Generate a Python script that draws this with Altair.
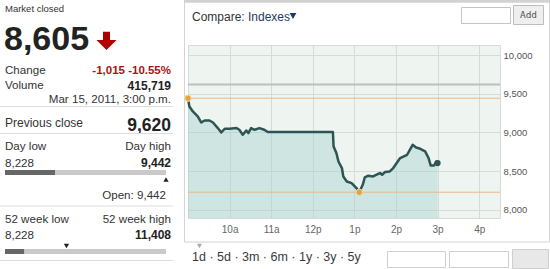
import altair as alt
import pandas as pd

# ---------------- data ----------------
times = ["9:00", "9:02", "9:07", "9:14", "9:19", "9:24", "9:31", "9:36", "9:43", "9:48",
         "9:53", "10:00", "10:10", "10:14", "10:19", "10:24", "10:27", "10:31", "10:36", "10:43",
         "10:50", "10:55", "11:00", "12:29", "12:30", "12:34", "12:37", "12:42", "12:44", "12:49",
         "12:56", "13:03", "13:07", "13:12", "13:15", "13:20", "13:27", "13:32", "13:37", "13:40",
         "13:44", "13:51", "13:56", "14:01", "14:06", "14:16", "14:20", "14:24", "14:29", "14:35",
         "14:42", "14:47", "14:50", "14:55", "14:58", "15:00"]
values = [9442, 9336, 9271, 9207, 9129, 9155, 9155, 9129, 9057, 9000,
          9048, 9048, 9057, 9035, 8970, 9026, 8992, 9057, 9035, 9057,
          9035, 9005, 9005, 9005, 8819, 8734, 8625, 8540, 8432, 8367,
          8346, 8282, 8228, 8324, 8419, 8441, 8432, 8454, 8475, 8454,
          8488, 8496, 8540, 8605, 8669, 8712, 8776, 8841, 8806, 8789,
          8755, 8669, 8574, 8574, 8625, 8605]

last_price = 8605
prev_close = 9620
open_price = 9442
day_low = 8228
day_high = 9442
wk52_low = 8228
wk52_high = 11408
volume = 415719
stamp = "Mar 15, 2011, 3:00 p.m."
hour_ticks = [10, 11, 12, 13, 14, 15, 16]
price_ticks = [8000, 8500, 9000, 9500, 10000]
periods = ["1d", "5d", "3m", "6m", "1y", "3y", "5y"]
y_min, y_max = 7895, 10130


def to_hours(t):
    h, m = t.split(":")
    return int(h) + int(m) / 60.0


df = pd.DataFrame({"h": [to_hours(t) for t in times], "v": values})
df["base"] = y_min

# ---------------- layout ----------------
PL, PT, W, H = 188, 45, 312, 173
FONT = "Liberation Sans"
XS = alt.Scale(domain=[9, 16.5], nice=False)
YS = alt.Scale(domain=[y_min, y_max], nice=False, zero=False)
one = pd.DataFrame({"k": [0]})


def txt(s, px, py, size=12, color="#333333", weight="normal", align="left", font=FONT):
    return alt.Chart(one).mark_text(
        text=s, align=align, baseline="alphabetic", fontSize=size,
        fontWeight=weight, color=color, font=font
    ).encode(x=alt.value(px - PL), y=alt.value(py - PT))


def hline(x1, x2, py, color="#dddddd", width=1):
    return alt.Chart(one).mark_rule(color=color, strokeWidth=width, strokeCap="butt").encode(
        x=alt.value(x1 - PL), x2=alt.value(x2 - PL), y=alt.value(py - PT))


def box(x1, y1, x2, y2, fill="#ffffff", stroke="#cccccc"):
    return alt.Chart(one).mark_rect(fill=fill, stroke=stroke, strokeWidth=1).encode(
        x=alt.value(x1 - PL), x2=alt.value(x2 - PL), y=alt.value(y1 - PT), y2=alt.value(y2 - PT))


def sym(px, py, shape, size, color):
    return alt.Chart(one).mark_point(shape=shape, size=size, filled=True, color=color,
                                     opacity=1, strokeWidth=0).encode(
        x=alt.value(px - PL), y=alt.value(py - PT))


# ---------------- chart ----------------
area = alt.Chart(df).mark_area(color="#a6d2d0", opacity=0.44).encode(
    x=alt.X("h:Q", scale=XS, title=None,
            axis=alt.Axis(values=hour_ticks, grid=True, gridColor="#d2ddd8", domain=False,
                          ticks=False, tickSize=0, labelPadding=6, labelFontSize=10,
                          labelColor="#666666", labelFont=FONT,
                          labelExpr="datum.value < 12 ? datum.value + 'a' : (datum.value == 12 ? '12p' : (datum.value - 12) + 'p')")),
    y=alt.Y("v:Q", scale=YS, title=None,
            axis=alt.Axis(orient="right", values=price_ticks, format=",d", grid=True,
                          gridColor="#d2ddd8", domain=False, ticks=False, tickSize=0,
                          labelPadding=3, labelFontSize=9.5, labelColor="#555555",
                          labelFont=FONT)),
    y2="base:Q",
)

refs = pd.DataFrame({"v": [day_high, day_low]})
orange_rules = alt.Chart(refs).mark_rule(color="#ebb98a", strokeWidth=1).encode(
    y=alt.Y("v:Q", scale=YS))
prev_rule = alt.Chart(pd.DataFrame({"v": [prev_close]})).mark_rule(
    color="#b9c0bd", strokeWidth=2).encode(y=alt.Y("v:Q", scale=YS))

line = alt.Chart(df).mark_line(color="#2e5553", strokeWidth=2.5, strokeJoin="round").encode(
    x=alt.X("h:Q", scale=XS), y=alt.Y("v:Q", scale=YS))

hi_idx = values.index(day_high)
lo_idx = values.index(day_low)
marks_df = pd.DataFrame({
    "h": [to_hours(times[hi_idx]), to_hours(times[lo_idx])],
    "v": [day_high, day_low],
})
orange_dots = alt.Chart(marks_df).mark_point(filled=True, color="#e3a33e", size=40, opacity=1,
                                             stroke="#f3d6a0", strokeWidth=1).encode(
    x=alt.X("h:Q", scale=XS), y=alt.Y("v:Q", scale=YS))
end_dot = alt.Chart(pd.DataFrame({"h": [to_hours(times[-1])], "v": [values[-1]]})).mark_point(
    filled=True, color="#2e5553", size=38, opacity=1).encode(
    x=alt.X("h:Q", scale=XS), y=alt.Y("v:Q", scale=YS))

# ---------------- left panel ----------------
change = last_price - prev_close
pct = change / prev_close * 100
L, R = 5, 171
arrow = "M-0.35,-0.93L0.35,-0.93L0.35,-0.1L1,-0.1L0,0.9L-1,-0.1L-0.35,-0.1Z"

bar_w = 161
day_pos = L + bar_w * (last_price - day_low) / (day_high - day_low)
day_open = L + bar_w * (open_price - day_low) / (day_high - day_low)
wk_pos = L + bar_w * (last_price - wk52_low) / (wk52_high - wk52_low)
wk_open = L + bar_w * (open_price - wk52_low) / (wk52_high - wk52_low)

left = [
    txt("Market closed", L, 11.5, 9.5, "#333333"),
    txt(f"{last_price:,}", 4, 50, 34, "#222222", "bold"),
    sym(106.5, 41, arrow, 400, "#b00000"),
    txt("Change", L, 74, 11.6),
    txt(f"{change:,} {pct:.2f}%", R, 74, 11.5, "#aa1111", "bold", "right"),
    txt("Volume", L, 89.3, 11.6),
    txt(f"{volume:,}", R, 89.5, 12, "#222222", "bold", "right"),
    txt(stamp, R, 103, 11.6, "#333333", "normal", "right"),
    hline(0, 173, 106.5),
    txt("Previous close", L, 127.3, 12),
    txt(f"{prev_close:,}", R, 130.5, 17.5, "#222222", "bold", "right"),
    hline(0, 173, 133.5),
    txt("Day low", L, 150, 11.6),
    txt("Day high", R, 150, 11.6, "#333333", "normal", "right"),
    txt(f"{day_low:,}", L, 166.7, 11.6),
    txt(f"{day_high:,}", R, 166.7, 12, "#222222", "bold", "right"),
    hline(L, L + bar_w, 172.5, "#c9c9c9", 5),
    hline(L, day_pos, 172.5, "#666666", 5),
    sym(day_open, 179.5, "triangle-up", 28, "#222222"),
    txt(f"Open: {open_price:,}", 166, 198.5, 11.6, "#333333", "normal", "right"),
    hline(0, 173, 206),
    txt("52 week low", L, 223, 11.6),
    txt("52 week high", R, 223, 11.6, "#333333", "normal", "right"),
    txt(f"{wk52_low:,}", L, 239, 11.6),
    txt(f"{wk52_high:,}", R, 239, 12, "#222222", "bold", "right"),
    sym(wk_open, 246, "triangle-down", 28, "#222222"),
    hline(L, L + bar_w, 251.5, "#c9c9c9", 5),
    hline(L, wk_pos, 251.5, "#666666", 5),
    hline(0, 173, 260.5),
]

# ---------------- right panel chrome ----------------
right = [
    box(184.5, 1.5, 549.5, 242, fill="transparent", stroke="#d4d4d4"),
    hline(184, 550, 1.2, "#d2d2d2", 3),
    txt("Compare: ", 192, 20.5, 12, "#333333"),
    txt("Indexes", 248, 20.5, 12, "#1f3a66"),
    sym(293, 16, "triangle-down", 45, "#1f3a66"),
    box(461.5, 7.5, 510.5, 23.5, "#ffffff", "#c4c4c4"),
    box(513.5, 5.5, 543.5, 24.5, "#efefef", "#bdbdbd"),
    txt("Add", 528.5, 18, 9.5, "#555555", "normal", "center", "DejaVu Sans Mono"),
    sym(199.5, 246, "triangle-down", 26, "#aaaaaa"),
    txt(" · ".join(periods), 192, 260.5, 12.5, "#3a3a3a"),
    box(387.5, 251.5, 445.5, 267.5, "#ffffff", "#cfcfcf"),
    box(449.5, 251.5, 508.5, 267.5, "#ffffff", "#cfcfcf"),
    box(512.5, 249.5, 548.5, 268.5, "#e8e8e8", "#cfcfcf"),
]

chart = alt.layer(
    area, prev_rule, orange_rules, line, orange_dots, end_dot, *left, *right
).properties(
    width=W, height=H,
    padding={"left": PL, "top": PT, "right": 550 - PL - W, "bottom": 269 - PT - H},
    autosize=alt.AutoSizeParams(type="none"),
    background="#ffffff",
).configure_view(fill="#eef5f1", stroke="#d6dcd9")

chart.save("out.html", embed_options={"renderer": "svg", "actions": False})
